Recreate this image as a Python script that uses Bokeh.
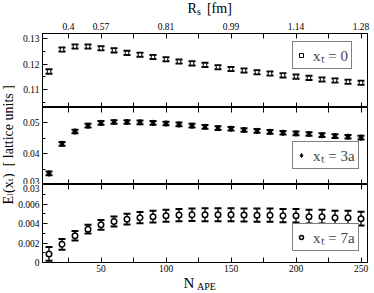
import math
from bokeh.plotting import figure
from bokeh.models import (Range1d, FixedTicker, LinearAxis, Whisker, TeeHead, ColumnDataSource,
                          Legend, LegendItem, CustomJSTickFormatter)
from bokeh.layouts import row, column
from bokeh.core.properties import value
from bokeh.embed import file_html
from bokeh.resources import INLINE

# ---------------- data ----------------
n_ape = [10, 20, 30, 40, 50, 60, 70, 80, 90, 100, 110, 120, 130,
         140, 150, 160, 170, 180, 190, 200, 210, 220, 230, 240, 250]

e_x0 = [0.1171, 0.1257, 0.1269, 0.1269, 0.1262, 0.1254, 0.1244, 0.1237, 0.1228, 0.1219,
        0.1210, 0.1203, 0.1197, 0.1188, 0.1181, 0.1175, 0.1168, 0.1163, 0.1156, 0.1151,
        0.1146, 0.1140, 0.1136, 0.1131, 0.1127]
e_x0_err = [0.0009, 0.0008, 0.0008, 0.0008, 0.0008, 0.0008, 0.0008, 0.0008, 0.0008, 0.0008,
            0.0008, 0.0008, 0.0008, 0.0008, 0.0008, 0.0008, 0.0008, 0.0008, 0.0008, 0.0008,
            0.0008, 0.0008, 0.0008, 0.0008, 0.0008]

e_x3 = [0.0336, 0.0432, 0.0472, 0.0491, 0.0500, 0.0503, 0.0503, 0.0502, 0.0500, 0.0498,
        0.0495, 0.0491, 0.0487, 0.0483, 0.0481, 0.0477, 0.0474, 0.0471, 0.0468, 0.0466,
        0.0464, 0.0460, 0.0457, 0.0455, 0.0452]
e_x3_err = [0.0006, 0.0006, 0.0006, 0.0006, 0.0006, 0.0006, 0.0006, 0.0006, 0.0006, 0.0006,
            0.0006, 0.0006, 0.0006, 0.0006, 0.0006, 0.0006, 0.0006, 0.0006, 0.0006, 0.0006,
            0.0006, 0.0006, 0.0006, 0.0006, 0.0006]

e_x7 = [0.00088, 0.00187, 0.00274, 0.00342, 0.00386, 0.00420, 0.00444, 0.00460, 0.00470, 0.00480,
        0.00487, 0.00490, 0.00490, 0.00490, 0.00490, 0.00488, 0.00485, 0.00485, 0.00480, 0.00480,
        0.00470, 0.00470, 0.00460, 0.00460, 0.00450]
e_x7_err = [0.00070, 0.00055, 0.00048, 0.00045, 0.00050, 0.00052, 0.00055, 0.00058, 0.00060, 0.00062,
            0.00063, 0.00065, 0.00066, 0.00066, 0.00066, 0.00067, 0.00068, 0.00068, 0.00068, 0.00069,
            0.00070, 0.00070, 0.00070, 0.00070, 0.00070]

x_ticks = [25, 50, 75, 100, 125, 150, 175, 200, 225, 250]
x_labels = ["", "50", "", "100", "", "150", "", "200", "", "250"]
rs_labels = ["0.4", "0.57", "", "0.81", "", "0.99", "", "1.14", "", "1.28"]
blank_labels = [""] * len(x_ticks)

y_top_ticks = [0.11, 0.12, 0.13]
y_top_labels = ["0.11", "0.12", "0.13"]
y_mid_ticks = [0.03, 0.04, 0.05]
y_mid_labels = ["0.03", "0.04", "0.05"]
# the "0.03" label sits on the boundary between the middle and bottom panels:
# its lower half is drawn by the bottom panel at that panel's top edge
y_bot_ticks = [0.0, 0.002, 0.004, 0.006, 0.008]
y_bot_labels = ["0", "0.002", "0.004", "0.006", "0.03"]

legend_labels = ["x\u209c = 0", "x\u209c = 3a", "x\u209c = 7a"]

# ---------------- layout constants ----------------
FONT = "Liberation Serif"
LABEL_W = 15
W = 355
LEFT = 24
RIGHT = 3
HDR = 17
FTR = 18
TOP_B = 16
BOT_B = 12
H_TOP, H_MID, H_BOT = 74, 77, 78
TOTAL_H = HDR + TOP_B + H_TOP + H_MID + H_BOT + BOT_B + FTR

x_range = Range1d(5, 255)

LOOKUP = ("const i = tvals.findIndex(t => Math.abs(t - tick) < 1e-9);"
          " return i >= 0 ? tlabs[i] : '';")


def style_axis(ax, labels, standoff=2):
    ax.major_tick_in = 5
    ax.major_tick_out = 0
    ax.minor_tick_in = 3
    ax.minor_tick_out = 0
    ax.major_tick_line_color = "black"
    ax.minor_tick_line_color = "black"
    ax.axis_line_color = "black"
    ax.major_label_text_font = FONT
    ax.major_label_text_color = "black"
    if labels:
        ax.major_label_text_font_size = "9.5px"
        ax.major_label_standoff = standoff
    else:
        ax.major_label_text_font_size = "1px"
        ax.major_label_standoff = 0
    ax.axis_label = None


def make_panel(height, ylo, yhi, yticks, ylabels, yminor, top_b, bot_b, top_labels, bottom_labels):
    p = figure(width=W, height=height, x_range=x_range, y_range=Range1d(ylo, yhi),
               output_backend="svg", toolbar_location=None, title=None,
               x_axis_location=None, y_axis_location="left")
    p.min_border_left = LEFT
    p.min_border_right = RIGHT
    p.min_border_top = top_b
    p.min_border_bottom = bot_b
    p.grid.visible = False
    p.outline_line_color = "black"
    p.outline_line_width = 1
    p.outline_line_alpha = 1
    ya = p.yaxis[0]
    ya.ticker = FixedTicker(ticks=yticks, minor_ticks=yminor)
    ya.formatter = CustomJSTickFormatter(args=dict(tvals=yticks, tlabs=ylabels), code=LOOKUP)
    style_axis(ya, True, 3)

    above = LinearAxis(ticker=FixedTicker(ticks=x_ticks))
    style_axis(above, top_labels is not blank_labels, 4)
    above.major_label_overrides = dict(zip(x_ticks, top_labels))
    p.add_layout(above, "above")

    below = LinearAxis(ticker=FixedTicker(ticks=x_ticks))
    style_axis(below, bottom_labels is not blank_labels, 2)
    below.major_label_overrides = dict(zip(x_ticks, bottom_labels))
    p.add_layout(below, "below")
    return p


def add_series(p, vals, errs, marker, size, fill, lw, stem, label, legend_y):
    src = ColumnDataSource(dict(x=n_ape, y=vals,
                                upper=[v + e for v, e in zip(vals, errs)],
                                lower=[v - e for v, e in zip(vals, errs)]))
    wh = Whisker(base="x", upper="upper", lower="lower", source=src,
                 line_color="black", line_width=stem,
                 upper_head=TeeHead(size=7, line_width=2, line_color="black"),
                 lower_head=TeeHead(size=7, line_width=2, line_color="black"))
    p.add_layout(wh)
    r = p.scatter("x", "y", source=src, marker=marker, size=size,
                  fill_color=fill, line_color="black", line_width=lw)
    leg = Legend(items=[LegendItem(label=label, renderers=[r])], location=(250, legend_y),
                 border_line_color="black", border_line_width=1,
                 background_fill_color="white", background_fill_alpha=1,
                 padding=3, margin=0, spacing=0, label_standoff=7,
                 glyph_width=10, glyph_height=16,
                 label_text_font=FONT, label_text_font_size="15px")
    p.add_layout(leg)


top = make_panel(TOP_B + H_TOP, 0.103, 0.132, y_top_ticks, y_top_labels, [0.105, 0.115, 0.125],
                 TOP_B, 0, rs_labels, blank_labels)
mid = make_panel(H_MID, 0.03, 0.055, y_mid_ticks, y_mid_labels, [0.035, 0.045],
                 0, 0, blank_labels, blank_labels)
bot = make_panel(H_BOT + BOT_B, 0.0, 0.008, y_bot_ticks, y_bot_labels, [0.001, 0.003, 0.005, 0.007],
                 0, BOT_B, blank_labels, x_labels)

add_series(top, e_x0, e_x0_err, "square", 3.5, "white", 1, 2.5, legend_labels[0], 38)
add_series(mid, e_x3, e_x3_err, "diamond", 6, "black", 1, 2, legend_labels[1], 15)
add_series(bot, e_x7, e_x7_err, "circle", 5.5, "white", 1.5, 1.3, legend_labels[2], 11)


def strip(height):
    f = figure(width=W, height=height, x_range=x_range, y_range=Range1d(0, height),
               output_backend="svg", toolbar_location=None, title=None,
               x_axis_location=None, y_axis_location=None)
    f.min_border_left = LEFT
    f.min_border_right = RIGHT
    f.min_border_top = 0
    f.min_border_bottom = 0
    f.outline_line_color = None
    f.grid.visible = False
    return f


# header strip: R_s [fm]
hdr = strip(HDR)
hdr.text(x=[116.5, 131.5], y=[9.0, 9.0], text=["R", "[fm]"], text_font=value(FONT),
         text_font_size="14px", text_color="black", text_align="left", text_baseline="middle")
hdr.text(x=[123.9], y=[5.8], text=["s"], text_font=value(FONT),
         text_font_size="10px", text_color="black", text_align="left", text_baseline="middle")

# footer strip: N_APE
ftr = strip(FTR)
ftr.text(x=[113.5], y=[9.4], text=["N"], text_font=value(FONT),
         text_font_size="15px", text_color="black", text_align="left", text_baseline="middle")
ftr.text(x=[123.8], y=[5.8], text=["APE"], text_font=value(FONT),
         text_font_size="10px", text_color="black", text_align="left", text_baseline="middle")

# rotated y-axis title  E_l(x_t)  [ lattice units ]
lab = figure(width=LABEL_W, height=TOTAL_H, x_range=Range1d(0, LABEL_W), y_range=Range1d(0, TOTAL_H),
             output_backend="svg", toolbar_location=None, title=None,
             x_axis_location=None, y_axis_location=None)
lab.min_border_left = lab.min_border_right = lab.min_border_top = lab.min_border_bottom = 0
lab.outline_line_color = None
lab.grid.visible = False
y0 = 88
lab.text(x=[7.5, 7.5, 7.5], y=[y0, y0 + 11.6, y0 + 26.5],
         text=["E", "(x", ")\u00a0 [ lattice units ]"], angle=math.pi / 2,
         text_font=value(FONT), text_font_size="14px", text_color="black",
         text_align="left", text_baseline="middle")
lab.text(x=[9.8, 9.8], y=[y0 + 8.6, y0 + 23.5], text=["l", "t"], angle=math.pi / 2,
         text_font=value(FONT), text_font_size="9px", text_color="black",
         text_align="left", text_baseline="middle")

layout = row(lab, column(hdr, top, mid, bot, ftr))
open("out.html", "w").write(file_html(layout, INLINE))
